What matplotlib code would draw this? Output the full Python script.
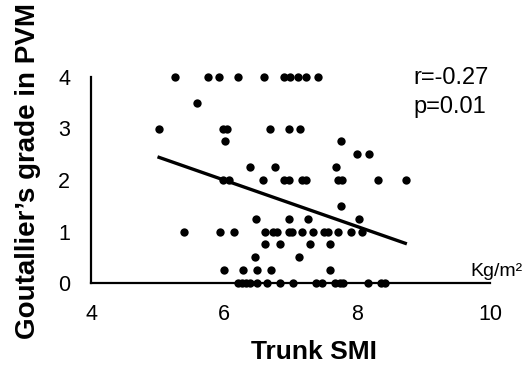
import matplotlib
matplotlib.use("Agg")
import matplotlib.pyplot as plt

plt.rcParams['font.family'] = ['Liberation Sans', 'DejaVu Sans']

# Data (Trunk SMI vs Goutallier's grade)
smi_g4 = [5.26, 5.76, 5.92, 6.21, 6.60, 6.90, 6.99, 7.11, 7.23, 7.41]
smi_g35 = [5.59]
smi_g3 = [5.02, 5.98, 6.05, 6.69, 6.97, 7.14]
smi_g275 = [6.02, 7.76]
smi_g25 = [8.00, 8.18]
smi_g225 = [6.39, 6.77, 7.68]
smi_g2 = [5.99, 6.08, 6.58, 6.90, 6.97, 7.18, 7.23, 7.72, 7.78, 8.31, 8.74]
smi_g15 = [7.76]
smi_g125 = [6.48, 6.97, 7.26, 8.03]
smi_g1 = [5.40, 5.94, 6.15, 6.61, 6.74, 6.80, 6.98, 7.02, 7.18, 7.34, 7.50, 7.57, 7.71, 7.91, 8.07]
smi_g075 = [6.61, 6.84, 7.30, 7.59]
smi_g05 = [6.46, 7.13]
smi_g025 = [6.00, 6.29, 6.49, 6.71, 7.59]
smi_g0 = [6.21, 6.27, 6.33, 6.39, 6.49, 6.65, 6.84, 7.04, 7.39, 7.47, 7.67, 7.74, 7.79, 8.17, 8.36, 8.42]

grade_levels = [4, 3.5, 3, 2.75, 2.5, 2.25, 2, 1.5, 1.25, 1, 0.75, 0.5, 0.25, 0]
smi_groups = [smi_g4, smi_g35, smi_g3, smi_g275, smi_g25, smi_g225, smi_g2,
              smi_g15, smi_g125, smi_g1, smi_g075, smi_g05, smi_g025, smi_g0]

trend_x = [5.0, 8.75]
trend_y = [2.45, 0.76]

x_ticks = [4, 6, 8, 10]
y_ticks = [0, 1, 2, 3, 4]

xs, ys = [], []
for g, grp in zip(grade_levels, smi_groups):
    xs.extend(grp)
    ys.extend([g] * len(grp))

W, H = 531, 365
fig = plt.figure(figsize=(W / 100, H / 100), dpi=100)
ax = fig.add_axes([91 / W, 1 - 283 / H, (490 - 91) / W, (283 - 77) / H])

ax.scatter(xs, ys, s=36, color='black', zorder=3, clip_on=False, linewidths=0)
ax.plot(trend_x, trend_y, color='black', lw=2.4, zorder=4, solid_capstyle='butt')

ax.set_xlim(4, 10)
ax.set_ylim(0, 4)
ax.set_xticks(x_ticks)
ax.set_yticks(y_ticks)
ax.tick_params(length=0, labelsize=15.5)
ax.tick_params(axis='x', pad=15)
ax.tick_params(axis='y', pad=15)
for s in ['top', 'right']:
    ax.spines[s].set_visible(False)
for s in ['left', 'bottom']:
    ax.spines[s].set_linewidth(1.6)
    ax.spines[s].set_color('black')

fig.text(314 / W, 1 - 352 / H, 'Trunk SMI', ha='center', va='center',
         fontsize=19, fontweight='bold')
fig.text(28 / W, 1 - 171 / H, "Goutallier’s grade in PVM", ha='center', va='center',
         rotation=90, fontsize=20, fontweight='bold')
fig.text(413 / W, 1 - 78 / H, 'r=-0.27', ha='left', va='center', fontsize=17)
fig.text(413 / W, 1 - 107 / H, 'p=0.01', ha='left', va='center', fontsize=17)
fig.text(470 / W, 1 - 272 / H, 'Kg/m²', ha='left', va='center', fontsize=14)

fig.savefig('out.png', dpi=100, facecolor='white')
